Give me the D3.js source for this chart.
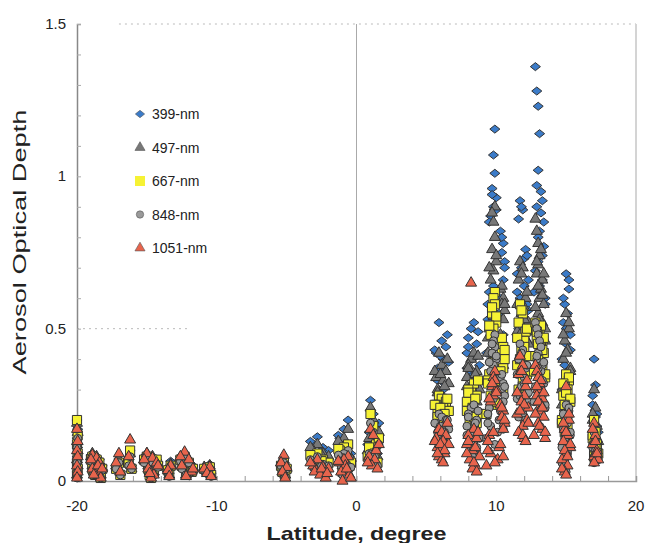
<!DOCTYPE html>
<html>
<head>
<meta charset="utf-8">
<script src="https://cdn.jsdelivr.net/npm/d3@7"></script>
<style>
  body { margin: 0; background: #fff; }
  text { font-family: "Liberation Sans", Arial, sans-serif; fill: #222; }
</style>
</head>
<body>
<script>
// latitude of each observation, one line per cluster
var lat = [
  -20.0,-19.95,-20.0,-19.95,-20.0,-19.95,-20.0,
  -18.9,-18.6,-18.4,-18.9,-18.5,-18.7,-18.3,-19.0,-18.5,-18.2,-18.8,
  -17.0,-17.2,-16.9,
  -16.2,-16.3,-16.1,
  -15.0,-14.6,-14.3,-14.9,-14.5,-14.7,-15.2,-14.2,-14.8,
  -13.3,-13.5,-13.4,
  -12.3,-12.0,-12.5,-11.8,-12.2,-12.6,-11.7,
  -10.5,-10.9,-10.7,-10.4,
  -5.2,-5.4,-5.0,-5.3,-5.1,
  -2.8,-3.1,-2.4,-2.0,-3.0,-2.6,-2.2,-3.3,-2.5,-2.1,
  -0.6,-0.9,-1.2,-0.8,-1.1,-0.5,-1.0,-1.3,-0.7,-0.4,
  1.0,1.2,1.4,0.9,1.3,1.1,1.5,1.6,0.8,
  5.9,6.1,6.4,5.7,6.2,6.6,5.8,6.0,6.3,5.9,6.1,6.5,5.6,6.0,6.3,5.8,6.2,
  8.2,8.4,8.0,8.6,7.9,8.3,8.8,8.1,8.5,8.3,8.7,8.0,8.5,7.9,8.4,8.6,
  9.9,9.8,9.9,9.7,10.0,9.8,9.6,10.3,10.5,10.4,10.6,10.5,9.5,9.4,10.2,9.6,10.1,9.3,
  9.7,10.0,9.5,10.4,10.6,9.8,10.3,9.4,10.5,9.9,
  11.7,11.9,11.6,12.1,12.0,11.8,12.3,11.5,12.2,11.9,11.6,12.0,
  11.8,12.2,11.5,12.0,11.7,12.3,11.9,12.1,
  12.8,12.9,13.0,13.1,13.0,12.9,13.3,13.2,13.1,13.4,13.0,13.3,12.7,13.5,
  13.2,12.9,13.4,13.0,13.3,12.8,13.1,13.5,
  15.0,15.2,14.9,15.1,14.8,15.3,15.0,14.7,15.1,14.9,
  15.2,14.8,15.0,15.3,14.9,15.1,14.7,15.0,
  17.0,17.1,16.9,17.2,17.0,17.3,16.9,17.1,17.2,17.0
];

var aod399 = [
  0.20,0.17,0.14,0.11,0.08,0.05,0.03,
  0.09,0.08,0.07,0.05,0.04,0.03,0.02,0.085,0.065,0.05,0.035,
  0.07,0.05,0.03,
  0.10,0.07,0.05,
  0.09,0.08,0.07,0.05,0.04,0.02,0.08,0.06,0.03,
  0.065,0.045,0.025,
  0.09,0.07,0.06,0.04,0.03,0.08,0.05,
  0.055,0.045,0.035,0.025,
  0.07,0.06,0.05,0.04,0.03,
  0.145,0.12,0.11,0.10,0.09,0.08,0.06,0.13,0.10,0.07,
  0.20,0.17,0.14,0.12,0.10,0.08,0.06,0.15,0.11,0.09,
  0.265,0.22,0.18,0.16,0.14,0.11,0.09,0.19,0.12,
  0.52,0.46,0.44,0.42,0.40,0.39,0.37,0.35,0.32,0.30,0.28,0.48,0.43,0.41,0.36,0.33,0.30,
  0.50,0.52,0.47,0.45,0.42,0.40,0.38,0.36,0.33,0.30,0.49,0.44,0.41,0.37,0.35,0.31,
  1.155,1.07,1.01,0.96,0.93,0.90,0.87,0.82,0.78,0.75,0.72,0.66,0.62,0.58,0.55,0.50,0.46,0.42,
  0.94,0.89,0.85,0.80,0.70,0.64,0.60,0.53,0.48,0.44,
  0.92,0.89,0.86,0.76,0.73,0.70,0.66,0.62,0.58,0.54,0.50,0.47,
  0.90,0.74,0.68,0.64,0.60,0.56,0.52,0.48,
  1.36,1.28,1.23,1.14,1.02,0.97,0.92,0.88,0.82,0.77,0.72,0.66,0.62,0.58,
  0.95,0.90,0.85,0.80,0.74,0.69,0.64,0.60,
  0.68,0.63,0.58,0.55,0.52,0.48,0.45,0.40,0.36,0.32,
  0.66,0.60,0.50,0.43,0.38,0.34,0.30,0.28,
  0.40,0.315,0.25,0.22,0.19,0.16,0.28,0.21,0.18,0.15
];

var aod497 = [
  0.19,0.16,0.13,0.10,0.07,0.05,0.02,
  0.09,0.08,0.06,0.05,0.04,0.03,0.02,0.08,0.06,0.045,0.03,
  0.07,0.05,0.03,
  0.09,0.06,0.04,
  0.09,0.08,0.06,0.05,0.03,0.02,0.07,0.055,0.03,
  0.055,0.04,0.02,
  0.09,0.07,0.05,0.04,0.02,0.075,0.045,
  0.05,0.045,0.03,0.02,
  0.07,0.06,0.04,0.03,0.02,
  0.12,0.10,0.09,0.08,0.07,0.06,0.05,0.11,0.085,0.06,
  0.17,0.14,0.12,0.10,0.08,0.07,0.05,0.13,0.09,0.075,
  0.24,0.20,0.15,0.14,0.12,0.09,0.08,0.16,0.10,
  0.42,0.38,0.36,0.34,0.33,0.32,0.30,0.28,0.26,0.24,0.22,0.40,0.36,0.35,0.31,0.29,0.27,
  0.40,0.42,0.38,0.36,0.34,0.32,0.30,0.27,0.24,0.21,0.41,0.37,0.35,0.31,0.29,0.26,
  0.90,0.85,0.80,0.76,0.72,0.69,0.66,0.63,0.60,0.58,0.56,0.53,0.50,0.47,0.44,0.40,0.36,0.33,
  0.88,0.74,0.70,0.64,0.58,0.54,0.48,0.42,0.38,0.34,
  0.72,0.70,0.66,0.60,0.57,0.55,0.52,0.49,0.46,0.43,0.40,0.37,
  0.68,0.62,0.58,0.53,0.48,0.45,0.42,0.38,
  0.86,0.82,0.78,0.74,0.71,0.68,0.66,0.63,0.60,0.58,0.55,0.52,0.49,0.46,
  0.76,0.72,0.68,0.64,0.61,0.57,0.53,0.50,
  0.55,0.50,0.46,0.43,0.40,0.37,0.34,0.30,0.27,0.24,
  0.52,0.48,0.42,0.36,0.32,0.28,0.25,0.22,
  0.30,0.24,0.20,0.18,0.15,0.13,0.22,0.17,0.14,0.12
];

var aod667 = [
  0.20,0.15,0.12,0.09,0.06,0.04,0.02,
  0.08,0.07,0.06,0.04,0.03,0.02,0.01,0.07,0.05,0.04,0.03,
  0.06,0.04,0.02,
  0.10,0.06,0.04,
  0.08,0.07,0.07,0.04,0.03,0.01,0.07,0.05,0.02,
  0.05,0.035,0.02,
  0.08,0.06,0.05,0.03,0.02,0.07,0.04,
  0.045,0.04,0.03,0.02,
  0.06,0.05,0.04,0.03,0.02,
  0.09,0.07,0.07,0.06,0.05,0.04,0.03,0.085,0.065,0.045,
  0.12,0.11,0.10,0.08,0.07,0.05,0.03,0.105,0.075,0.06,
  0.22,0.18,0.12,0.11,0.09,0.07,0.06,0.14,0.08,
  0.28,0.27,0.26,0.25,0.24,0.23,0.22,0.21,0.20,0.19,0.18,0.27,0.25,0.24,0.22,0.21,0.20,
  0.30,0.32,0.30,0.28,0.26,0.24,0.22,0.20,0.18,0.16,0.33,0.29,0.27,0.23,0.21,0.19,
  0.62,0.60,0.58,0.55,0.52,0.50,0.48,0.46,0.44,0.42,0.40,0.37,0.35,0.33,0.31,0.28,0.25,0.22,
  0.57,0.54,0.51,0.47,0.43,0.39,0.36,0.32,0.30,0.26,
  0.58,0.55,0.52,0.49,0.46,0.43,0.41,0.38,0.35,0.33,0.30,0.28,
  0.56,0.50,0.47,0.44,0.40,0.36,0.31,0.29,
  0.52,0.51,0.50,0.49,0.48,0.47,0.46,0.45,0.44,0.42,0.40,0.38,0.36,0.34,
  0.51,0.49,0.47,0.45,0.43,0.41,0.38,0.35,
  0.35,0.33,0.31,0.30,0.28,0.26,0.24,0.20,0.18,0.16,
  0.34,0.32,0.29,0.27,0.25,0.22,0.19,0.15,
  0.20,0.16,0.14,0.12,0.10,0.09,0.15,0.11,0.09,0.08
];

var aod848 = [
  0.17,0.14,0.11,0.08,0.06,0.03,0.01,
  0.08,0.07,0.05,0.04,0.03,0.02,0.01,0.065,0.045,0.035,0.025,
  0.06,0.04,0.02,
  0.08,0.05,0.04,
  0.08,0.06,0.05,0.04,0.02,0.01,0.06,0.045,0.02,
  0.05,0.03,0.015,
  0.08,0.06,0.04,0.03,0.02,0.065,0.035,
  0.04,0.035,0.025,0.015,
  0.06,0.05,0.04,0.03,0.015,
  0.08,0.06,0.055,0.05,0.04,0.03,0.02,0.07,0.05,0.035,
  0.10,0.09,0.08,0.06,0.05,0.04,0.02,0.085,0.055,0.045,
  0.19,0.16,0.10,0.09,0.08,0.06,0.05,0.12,0.07,
  0.22,0.21,0.20,0.19,0.18,0.17,0.16,0.15,0.14,0.12,0.11,0.20,0.19,0.18,0.16,0.14,0.13,
  0.24,0.25,0.22,0.20,0.18,0.16,0.14,0.12,0.10,0.08,0.23,0.21,0.19,0.15,0.13,0.11,
  0.48,0.46,0.44,0.42,0.40,0.38,0.36,0.34,0.32,0.30,0.28,0.26,0.24,0.22,0.20,0.18,0.16,0.14,
  0.45,0.41,0.39,0.35,0.31,0.27,0.23,0.19,0.17,0.12,
  0.45,0.43,0.40,0.37,0.34,0.31,0.29,0.27,0.25,0.23,0.21,0.19,
  0.42,0.38,0.35,0.32,0.28,0.26,0.22,0.20,
  0.52,0.50,0.48,0.46,0.42,0.40,0.38,0.36,0.34,0.32,0.30,0.28,0.26,0.24,
  0.44,0.41,0.39,0.37,0.33,0.31,0.29,0.25,
  0.25,0.23,0.21,0.19,0.17,0.15,0.13,0.11,0.09,0.07,
  0.24,0.22,0.20,0.16,0.14,0.10,0.06,0.03,
  0.16,0.13,0.11,0.09,0.08,0.07,0.12,0.10,0.08,0.06
];

var aod1051 = [
  0.17,0.13,0.10,0.08,0.05,0.03,0.01,
  0.085,0.075,0.06,0.04,0.03,0.02,0.01,0.07,0.05,0.04,0.02,
  0.09,0.06,0.03,
  0.135,0.08,0.05,
  0.09,0.075,0.06,0.04,0.02,0.01,0.07,0.05,0.025,
  0.05,0.035,0.015,
  0.095,0.07,0.05,0.03,0.015,0.08,0.04,
  0.045,0.04,0.025,0.015,
  0.085,0.06,0.045,0.03,0.01,
  0.07,0.05,0.045,0.04,0.03,0.02,0.01,0.06,0.04,0.025,
  0.08,0.07,0.06,0.05,0.03,0.02,0.0,0.065,0.04,0.01,
  0.17,0.15,0.10,0.08,0.07,0.05,0.04,0.12,0.06,
  0.17,0.16,0.15,0.14,0.13,0.12,0.11,0.10,0.09,0.08,0.07,0.19,0.13,0.12,0.10,0.09,0.06,
  0.65,0.17,0.15,0.14,0.12,0.10,0.08,0.07,0.05,0.04,0.16,0.13,0.11,0.09,0.06,0.03,
  0.36,0.34,0.33,0.31,0.30,0.28,0.26,0.25,0.23,0.21,0.19,0.17,0.15,0.13,0.11,0.09,0.07,0.05,
  0.32,0.29,0.27,0.24,0.20,0.16,0.12,0.10,0.08,0.06,
  0.41,0.38,0.35,0.31,0.28,0.26,0.24,0.22,0.20,0.18,0.16,0.14,
  0.36,0.33,0.29,0.25,0.23,0.19,0.15,0.13,
  0.38,0.36,0.34,0.32,0.30,0.28,0.27,0.25,0.23,0.21,0.19,0.17,0.15,0.14,
  0.33,0.31,0.29,0.26,0.24,0.22,0.18,0.16,
  0.31,0.20,0.17,0.15,0.13,0.11,0.09,0.07,0.05,0.03,
  0.22,0.19,0.16,0.12,0.10,0.08,0.04,0.02,
  0.19,0.15,0.12,0.10,0.08,0.07,0.17,0.13,0.09,0.06
];

var seriesNames = ["399-nm", "497-nm", "667-nm", "848-nm", "1051-nm"];
var seriesValues = [aod399, aod497, aod667, aod848, aod1051];
var xTicks = [-20, -10, 0, 10, 20];
var yTicks = [0, 0.5, 1, 1.5];

// marker look for each series
var fills = ["#3b7bc8", "#787878", "#f6f234", "#9a9a9a", "#e8644c"];

// wide diamond, like the one in the old plot
var wideDiamond = {
  draw: function(ctx, size) {
    var w = Math.sqrt(size) * 0.62, h = w * 0.8;
    ctx.moveTo(0, -h); ctx.lineTo(w, 0); ctx.lineTo(0, h); ctx.lineTo(-w, 0); ctx.closePath();
  }
};
var shapes = [wideDiamond, d3.symbolTriangle, d3.symbolSquare, d3.symbolCircle, d3.symbolTriangle];
var sizes = [66, 52, 84, 50, 52];

var W = 645, H = 543;
var x = d3.scaleLinear().domain([-20, 20]).range([77, 636]);
var y = d3.scaleLinear().domain([0, 1.5]).range([481, 24]);

var svg = d3.select("body").append("svg")
    .attr("width", W)
    .attr("height", H);

// faint frame: top dotted, right border, partial gridline at 0.5
svg.append("line")
    .attr("x1", x(-17)).attr("x2", x(20))
    .attr("y1", y(1.5)).attr("y2", y(1.5))
    .attr("stroke", "#bbb").attr("stroke-dasharray", "2,4");
svg.append("line")
    .attr("x1", x(20)).attr("x2", x(20))
    .attr("y1", y(1.5)).attr("y2", y(0))
    .attr("stroke", "#d4d4d4").attr("stroke-width", 2);
svg.append("line")
    .attr("x1", x(-20)).attr("x2", x(-12))
    .attr("y1", y(0.5)).attr("y2", y(0.5))
    .attr("stroke", "#bbb").attr("stroke-dasharray", "2,4");

// vertical line at the equator
svg.append("line")
    .attr("x1", x(0)).attr("x2", x(0))
    .attr("y1", y(1.5)).attr("y2", y(0))
    .attr("stroke", "#aaa").attr("stroke-width", 1);

// y axis with minor ticks pointing inward
var yAxis = svg.append("g")
    .attr("transform", "translate(" + x(-20) + ",0)")
    .call(d3.axisRight(y).tickValues(d3.range(0, 1.51, 0.1)).tickSize(4).tickFormat(""));
yAxis.select(".domain").attr("stroke", "#888").attr("stroke-width", 1.5);
yAxis.selectAll(".tick line").attr("stroke", "#aaa");

// x axis, ticks every 2 degrees, pointing up
var xAxis = svg.append("g")
    .attr("transform", "translate(0," + y(0) + ")")
    .call(d3.axisTop(x).tickValues(d3.range(-20, 20.1, 2)).tickSize(5).tickFormat(""));
xAxis.select(".domain").attr("stroke", "#999").attr("stroke-width", 1.5);
xAxis.selectAll(".tick line").attr("stroke", "#999");

// tick labels
svg.selectAll(".ylab")
    .data(yTicks)
  .enter().append("text")
    .attr("x", 66)
    .attr("y", function(d) { return y(d) + 5; })
    .attr("text-anchor", "end")
    .style("font-size", "15px")
    .text(function(d) { return d; });

svg.selectAll(".xlab")
    .data(xTicks)
  .enter().append("text")
    .attr("x", function(d) { return x(d); })
    .attr("y", 511)
    .attr("text-anchor", "middle")
    .style("font-size", "15px")
    .text(function(d) { return d; });

// axis titles
svg.append("text")
    .attr("text-anchor", "middle")
    .attr("transform", "translate(" + x(0) + ",540)")
    .style("font-size", "19px")
    .style("font-weight", "bold")
    .attr("textLength", 180)
    .attr("lengthAdjust", "spacingAndGlyphs")
    .text("Latitude, degree");

svg.append("text")
    .attr("text-anchor", "middle")
    .attr("transform", "translate(26,242)rotate(-90)")
    .style("font-size", "19px")
    .attr("textLength", 265)
    .attr("lengthAdjust", "spacingAndGlyphs")
    .text("Aerosol Optical Depth");

// scatter, one layer per wavelength
seriesValues.forEach(function(vals, i) {
  svg.append("g").selectAll("path")
      .data(vals)
    .enter().append("path")
      .attr("d", d3.symbol().type(shapes[i]).size(sizes[i]))
      .attr("transform", function(d, j) { return "translate(" + x(lat[j]) + "," + y(d) + ")"; })
      .attr("fill", fills[i])
      .attr("stroke", "#333")
      .attr("stroke-width", 1);
});

// legend
var legend = svg.append("g");
seriesNames.forEach(function(name, i) {
  var ly = 114 + i * 33.5;
  legend.append("path")
      .attr("d", d3.symbol().type(shapes[i]).size(i == 2 ? 100 : sizes[i] * 0.85))
      .attr("transform", "translate(140," + ly + ")")
      .attr("fill", fills[i])
      .attr("stroke", i == 2 ? "none" : "#555")
      .attr("stroke-width", 0.6);
  legend.append("text")
      .attr("x", 152)
      .attr("y", ly + 5)
      .style("font-size", "14px")
      .text(name);
});
</script>
</body>
</html>
